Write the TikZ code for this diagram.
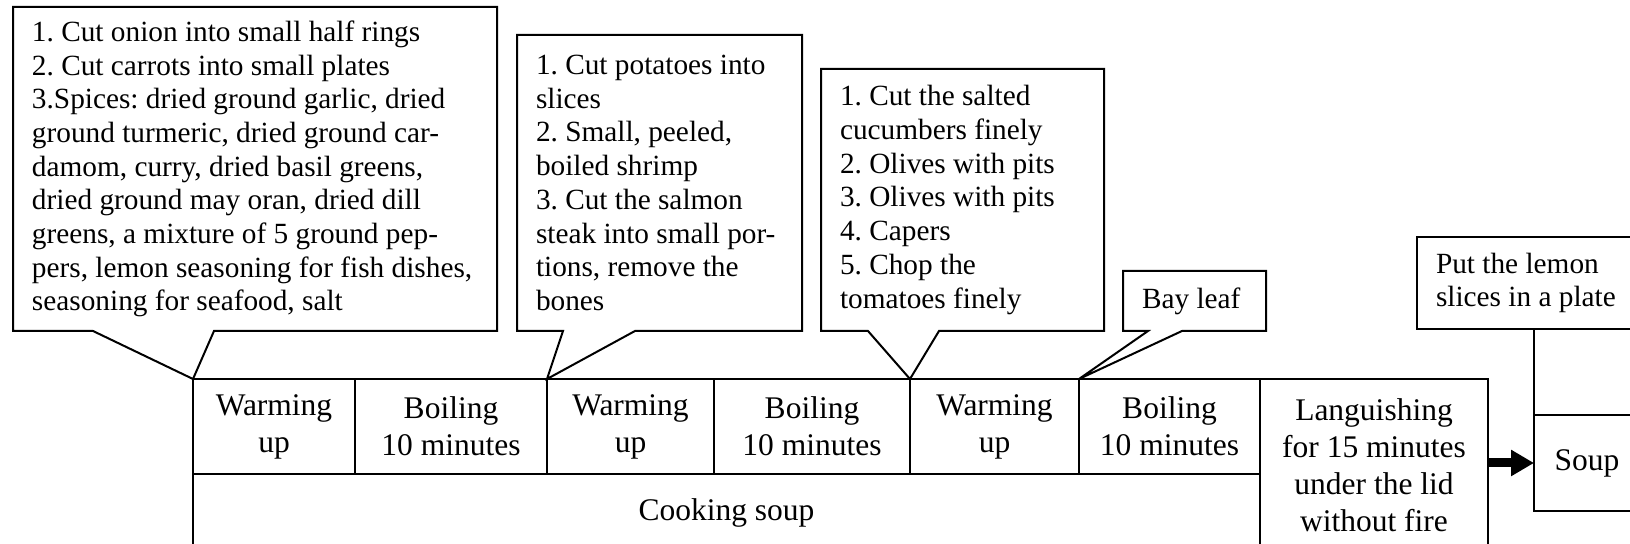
\documentclass[tikz,border=0pt]{standalone}
\usepackage{fontspec}
\setmainfont{Liberation Serif}
\frenchspacing
\usetikzlibrary{positioning,calc,arrows.meta}
\begin{document}
\begin{tikzpicture}[x=0.5pt,y=-0.5pt]
\tikzset{cell/.style={draw,line width=1pt,outer sep=0pt,inner sep=2pt,align=center,minimum height=47.5pt,font=\fontsize{15.75pt}{18.5pt}\selectfont}}
\tikzset{note/.style={outer sep=0pt,inner xsep=9.5pt,inner ysep=0pt,align=flush left,anchor=north west,font=\fontsize{14.65pt}{16.85pt}\selectfont}}
\tikzset{outline/.style={line width=1pt,line join=miter}}
\clip (0,0) rectangle (1630,544);
\node[cell,anchor=north west,minimum width=81pt] (warm1) at (193,379) {Warming\\up};
\node[cell,minimum width=96pt,right=0pt of warm1] (boil1) {Boiling\\10 minutes};
\node[cell,minimum width=83.5pt,right=0pt of boil1] (warm2) {Warming\\up};
\node[cell,minimum width=98pt,right=0pt of warm2] (boil2) {Boiling\\10 minutes};
\node[cell,minimum width=84.5pt,right=0pt of boil2] (warm3) {Warming\\up};
\node[cell,minimum width=90.5pt,right=0pt of warm3] (boil3) {Boiling\\10 minutes};
\node[cell,anchor=north west,minimum width=533.5pt,minimum height=39pt] (cook) at (warm1.south west) {Cooking soup};
\node[cell,anchor=north west,minimum width=114pt,minimum height=86.5pt] (lang) at (boil3.north east) {Languishing\\for 15 minutes\\under the lid\\without fire};
\node[cell,anchor=west,minimum width=53pt,minimum height=48pt] (soup) at (1534,463) {Soup};
\node[note,text width=223pt,minimum width=242pt,minimum height=162pt] (onion) at (13,7) {1. Cut onion into small half rings\\2. Cut carrots into small plates\\3.Spices: dried ground garlic, dried\\ground turmeric, dried ground car-\\damom, curry, dried basil greens,\\dried ground may oran, dried dill\\greens, a mixture of 5 ground pep-\\pers, lemon seasoning for fish dishes,\\seasoning for seafood, salt};
\node[note,text width=123.5pt,minimum width=142.5pt,minimum height=148pt] (potato) at (517,35) {1. Cut potatoes into\\slices\\2. Small, peeled,\\boiled shrimp\\3. Cut the salmon\\steak into small por-\\tions, remove the\\bones};
\node[note,text width=122.5pt,minimum width=141.5pt,minimum height=131pt] (cucumber) at (821,69) {1. Cut the salted\\cucumbers finely\\2. Olives with pits\\3. Olives with pits\\4. Capers\\5. Chop the\\tomatoes finely};
\node[note,text width=52.5pt,minimum width=71.5pt,minimum height=30pt] (bayleaf) at (1123,271) {Bay leaf};
\node[note,draw,line width=1pt,text width=95pt,minimum width=114pt,minimum height=46pt] (lemon) at (1417,237) {Put the lemon\\slices in a plate};
\foreach \cb/\tp/\pa/\pb in {onion/warm1/80/201,potato/warm2/46/118,cucumber/warm3/47/118,bayleaf/boil3/25/59}
  \draw[outline] (\cb.south west) -- (\cb.north west) -- (\cb.north east) -- (\cb.south east) -- ($(\cb.south west)+(\pb,0)$) -- (\tp.north west) -- ($(\cb.south west)+(\pa,0)$) -- cycle;
\draw[line width=0.8pt] (soup.north west) -- (soup.north west |- lemon.south);
\draw[line width=4.5pt,-{Triangle[length=11.5pt,width=12.5pt]}] (lang.east |- soup.west) -- (soup.west);
\end{tikzpicture}
\end{document}
